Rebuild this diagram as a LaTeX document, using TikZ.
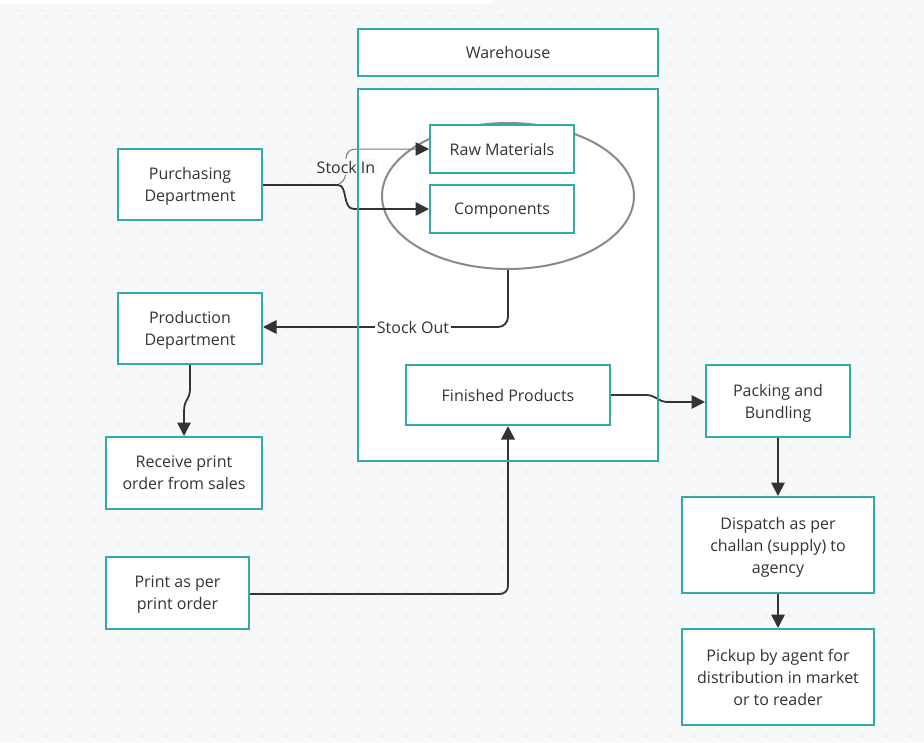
\documentclass[tikz,border=0pt]{standalone}
\usepackage{fontspec}
\setmainfont{Open Sans}
\usetikzlibrary{arrows.meta,shapes.geometric}
\definecolor{bg}{HTML}{F7F8FA}
\definecolor{teal1}{HTML}{33A9A9}
\definecolor{ink}{HTML}{333333}
\definecolor{dotc}{HTML}{DADCE0}
\definecolor{ellc}{HTML}{8A8A8A}
\definecolor{thin}{HTML}{777777}
\tikzset{
  txt/.style={text=ink, font=\fontsize{16}{22}\selectfont},
  boxst/.style={txt, draw=teal1, line width=2pt, fill=white, inner sep=2pt, align=center, text depth=0pt},
  conn/.style={draw=ink, line width=1.8pt, -{Triangle[length=13.5pt,width=13.5pt]}},
  thinconn/.style={draw=thin, line width=1pt, -{Triangle[length=13.5pt,width=13.5pt,fill=ink,color=ink]}},
  lab/.style={txt, inner sep=1.5pt},
}
\begin{document}
\begin{tikzpicture}[x=1pt,y=-1pt]
\fill[bg] (0,0) rectangle (924,742);
\useasboundingbox (0,0) rectangle (924,742);
\foreach \i in {0,...,38} \foreach \j in {0,...,30} \fill[dotc] (21.7+24*\i,16+24*\j) circle (1.1pt);
% top bar with faint shadow
\fill[black!5, rounded corners=6pt] (-10,-10) rectangle (497,8);
\fill[black!3, rounded corners=6pt] (-10,-10) rectangle (499,11);
\fill[white, rounded corners=6pt] (-10,-10) rectangle (495,4);
% warehouse
\node[boxst, minimum width=300pt, minimum height=47pt] (wh) at (508,52.5) {Warehouse};
\node[boxst, minimum width=300pt, minimum height=372pt] (cont) at (508,275) {};
\node[ellipse, draw=ellc, line width=2pt, inner sep=0pt, minimum width=252pt, minimum height=146pt] (ell) at (508,196) {};
\node[boxst, minimum width=144pt, minimum height=48pt] (raw) at (502,149) {Raw Materials};
\node[boxst, minimum width=144pt, minimum height=48pt] (comp) at (502,209) {Components};
\node[boxst, minimum width=204pt, minimum height=60pt] (fin) at (508,395) {Finished Products};
% left column
\node[boxst, minimum width=144pt, minimum height=71pt] (purch) at (190,184.5) {Purchasing\\Department};
\node[boxst, minimum width=144pt, minimum height=71pt] (prod) at (190,328.5) {Production\\Department};
\node[boxst, minimum width=156pt, minimum height=72pt] (recv) at (184,473) {Receive print\\order from sales};
\node[boxst, minimum width=143pt, minimum height=72pt] (print) at (177.5,593) {Print as per\\print order};
% right column
\node[boxst, minimum width=144pt, minimum height=72pt] (pack) at (778,401) {Packing and\\Bundling};
\node[boxst, minimum width=192pt, minimum height=96pt] (disp) at (778,545) {Dispatch as per\\challan (supply) to\\agency};
\node[boxst, minimum width=192pt, minimum height=96pt] (pick) at (778,677) {Pickup by agent for\\distribution in market\\or to reader};
% connectors
\draw[conn] (purch.east |- 0,185) -- (338,185) .. controls (348,185) and (342,209) .. (354,209) -- (comp.west);
\coordinate (si) at (339,184);
\draw[thinconn] (si) .. controls (345,181) and (346,176) .. (346,168) -- (346,160) .. controls (346,151) and (350,149) .. (358,149) -- (raw.west);
\node[lab, fill=bg] (silab) at (346,167) {Stock In};
\draw[conn, rounded corners=10pt] (ell.south) |- (prod.east |- 0,327);
\node[lab, fill=white] (solab) at (413,327) {Stock Out};
\draw[conn] (prod.south) -- (190,388) .. controls (190,401) and (184,398) .. (184,412) -- (recv.north);
\draw[conn] (fin.east |- 0,395) -- (646,395) .. controls (656,395) and (658,402) .. (668,402) -- (pack.west |- 0,402);
\draw[conn, rounded corners=8pt] (print.east |- 0,594) -| (fin.south);
\draw[conn] (pack.south) -- (disp.north);
\draw[conn] (disp.south) -- (pick.north);
% restore container edge over label
\draw[teal1, line width=2pt] ([shift={(1,1)}]cont.north west) rectangle ([shift={(-1,-1)}]cont.south east);
\end{tikzpicture}
\end{document}
